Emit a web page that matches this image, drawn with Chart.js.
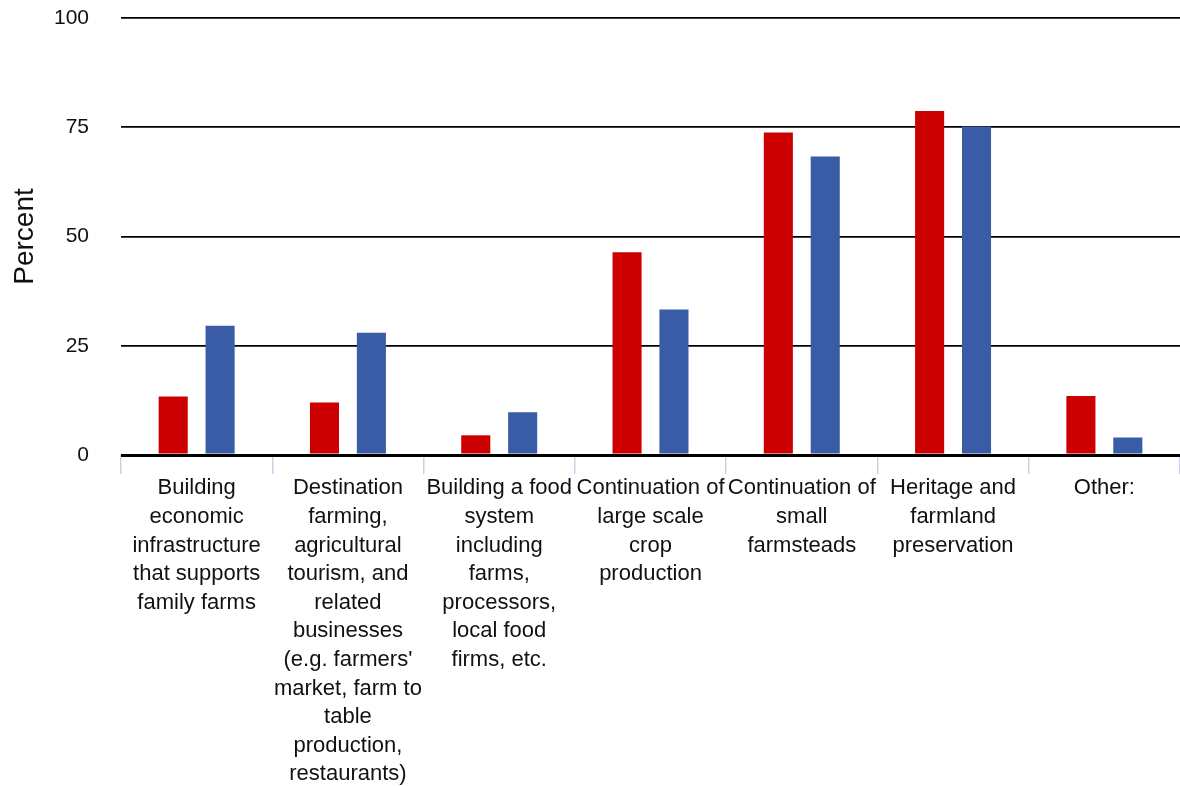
<!DOCTYPE html>
<html>
<head>
<meta charset="utf-8">
<title>Percent by priority</title>
<script src="https://cdn.jsdelivr.net/npm/chart.js@4.4.1/dist/chart.umd.min.js"></script>
<style>
  html, body { margin: 0; padding: 0; background: #fff; }
  #wrap { width: 1180px; height: 786px; }
</style>
</head>
<body>
<div id="wrap"><canvas id="priorityChart"></canvas></div>
<script>
// categories, each one already broken into the lines shown under the axis
const categories = [
    ['Building', 'economic', 'infrastructure', 'that supports', 'family farms'],
    ['Destination', 'farming,', 'agricultural', 'tourism, and', 'related', 'businesses',
     "(e.g. farmers'", 'market, farm to', 'table', 'production,', 'restaurants)'],
    ['Building a food', 'system', 'including', 'farms,', 'processors,', 'local food', 'firms, etc.'],
    ['Continuation of', 'large scale', 'crop', 'production'],
    ['Continuation of', 'small', 'farmsteads'],
    ['Heritage and', 'farmland', 'preservation'],
    ['Other:']
];

const redValues  = [13.4, 12.0, 4.5, 46.4, 73.8, 78.7, 13.5];
const blueValues = [29.6, 28.0, 9.8, 33.3, 68.3, 75.2, 4.0];

const yTicks = [0, 25, 50, 75, 100];

document.addEventListener('DOMContentLoaded', function() {
    const fontFamily = "'Liberation Sans', Arial, Helvetica, sans-serif";
    const ctx = document.getElementById('priorityChart').getContext('2d');

    new Chart(ctx, {
        type: 'bar',
        data: {
            labels: categories,
            datasets: [{
                label: 'Series 1',
                data: redValues,
                backgroundColor: '#cc0000',
                categoryPercentage: 0.62,
                barPercentage: 0.62
            }, {
                label: 'Series 2',
                data: blueValues,
                backgroundColor: '#3a5ba5',
                categoryPercentage: 0.62,
                barPercentage: 0.62
            }]
        },
        options: {
            responsive: true,
            maintainAspectRatio: false,
            animation: false,
            layout: { padding: { top: 18, right: 0, bottom: 0, left: 0 } },
            plugins: {
                legend: { display: false },
                tooltip: { enabled: false }
            },
            scales: {
                x: {
                    grid: {
                        offset: true,
                        drawOnChartArea: false,
                        tickLength: 19,
                        color: '#c8d3ea',
                        lineWidth: 1.5
                    },
                    border: { display: false },
                    ticks: {
                        autoSkip: false,
                        maxRotation: 0,
                        minRotation: 0,
                        padding: 0,
                        color: '#111',
                        font: { family: fontFamily, size: 22, lineHeight: 1.3 }
                    },
                    afterFit: function(scale) {
                        scale.height = 331;
                    }
                },
                y: {
                    min: 0,
                    max: 100,
                    afterBuildTicks: function(scale) {
                        scale.ticks = yTicks.map(v => ({ value: v }));
                    },
                    grid: {
                        drawTicks: false,
                        color: '#000',
                        lineWidth: ctx => (ctx.tick && ctx.tick.value === 0 ? 3 : 1.8)
                    },
                    border: { display: false },
                    ticks: {
                        padding: 32,
                        color: '#111',
                        font: { family: fontFamily, size: 21 }
                    },
                    title: {
                        display: true,
                        text: 'Percent',
                        color: '#111',
                        padding: { top: 8, bottom: 0 },
                        font: { family: fontFamily, size: 28 }
                    },
                    afterFit: function(scale) {
                        // fixed axis width; drop the label padding added above/below
                        scale.width = 121;
                        scale.paddingTop = 0;
                        scale.paddingBottom = 0;
                    }
                }
            }
        }
    });
});
</script>
</body>
</html>
